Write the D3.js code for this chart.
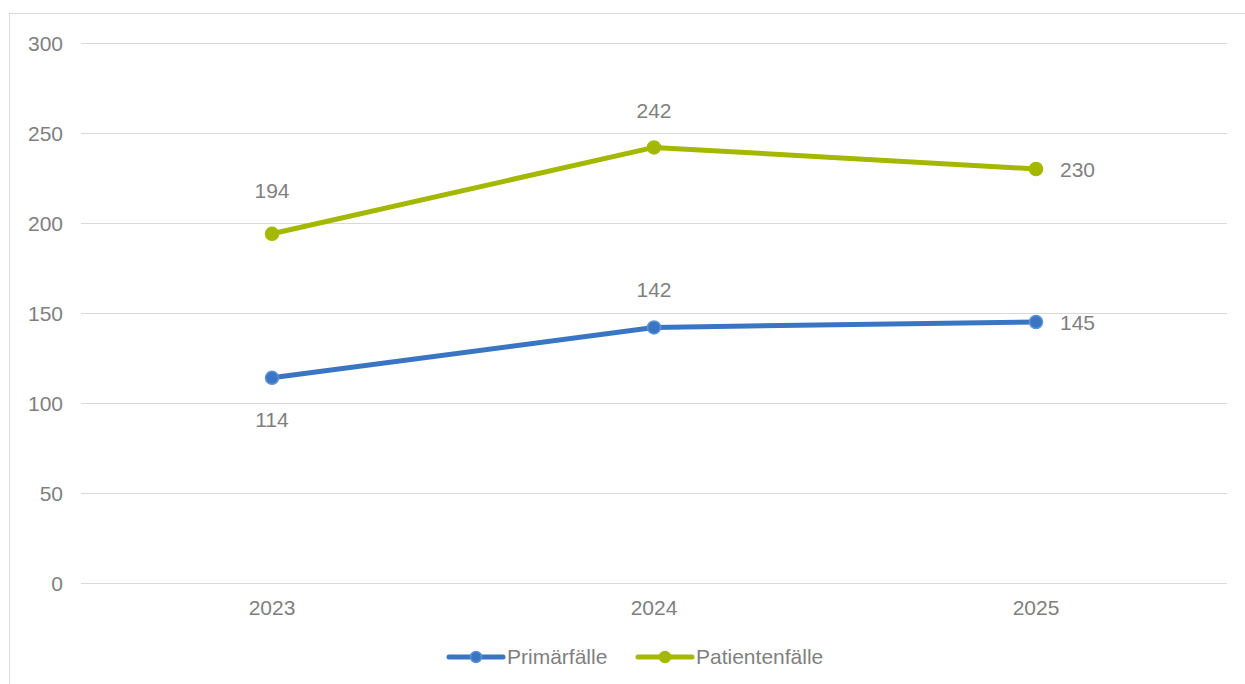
<!DOCTYPE html>
<html><head><meta charset="utf-8">
<script src="https://cdn.jsdelivr.net/npm/d3@7"></script>
<style>body{margin:0;background:#fff;}svg{display:block;font-family:"Liberation Sans",Arial,sans-serif;}</style>
</head><body>
<script>
const categories = ["2023","2024","2025"];
const primaer = [114,142,145];
const patienten = [194,242,230];
const yTicks = [0,50,100,150,200,250,300];
const seriesNames = ["Primärfälle","Patientenfälle"];

const W=1245,H=684;
const FS=21, TC="#7f7f7f";
const svg=d3.select("body").append("svg").attr("width",W).attr("height",H);
svg.append("rect").attr("x",9.5).attr("y",13.5).attr("width",1245).attr("height",700).attr("fill","none").attr("stroke","#d9d9d9");

const x=d3.scaleBand().domain(categories).range([81,1227]);
const y=d3.scaleLinear().domain([0,300]).range([583,43]);

const grid=svg.append("g");
grid.selectAll("line").data(yTicks).join("line")
 .attr("x1",81).attr("x2",1227).attr("y1",d=>Math.round(y(d))+0.5).attr("y2",d=>Math.round(y(d))+0.5)
 .attr("stroke","#d9d9d9").attr("stroke-width",1);

const yAxis=d3.axisLeft(y).tickValues(yTicks).tickSize(0).tickPadding(0);
const ya=svg.append("g").attr("transform","translate(63,0)").call(yAxis);
ya.select(".domain").remove();
ya.selectAll("text").attr("font-size",FS).attr("fill",TC).attr("font-family","Liberation Sans, Arial, sans-serif").attr("dy","0.35em");

const xAxis=d3.axisBottom(x).tickSize(0).tickPadding(0);
const xa=svg.append("g").attr("transform","translate(0,608)").call(xAxis);
xa.select(".domain").remove();
xa.selectAll("text").attr("font-size",FS).attr("fill",TC).attr("font-family","Liberation Sans, Arial, sans-serif").attr("dy","0.35em");

const cx=d=>x(d)+x.bandwidth()/2;
const series=[
 {name:seriesNames[0],vals:primaer,color:"#3a75c4",mstroke:"#5b93d6",pos:["below","above","right"],off:[42,-38,1]},
 {name:seriesNames[1],vals:patienten,color:"#a5b800",mstroke:"#a5b800",pos:["above","above","right"],off:[-43,-37,1]}
];
const line=d3.line().x((d,i)=>cx(categories[i])).y(d=>y(d));
series.forEach(s=>{
 svg.append("path").attr("d",line(s.vals)).attr("fill","none").attr("stroke",s.color).attr("stroke-width",5).attr("stroke-linejoin","round").attr("stroke-linecap","round");
 svg.append("g").selectAll("circle").data(s.vals).join("circle")
  .attr("cx",(d,i)=>cx(categories[i])).attr("cy",d=>y(d)).attr("r",6.5)
  .attr("fill",s.color).attr("stroke",s.mstroke).attr("stroke-width",1.5);
 svg.append("g").selectAll("text").data(s.vals).join("text")
  .attr("x",(d,i)=>s.pos[i]==="right"?cx(categories[i])+24:cx(categories[i]))
  .attr("y",(d,i)=>y(d)+s.off[i])
  .attr("text-anchor",(d,i)=>s.pos[i]==="right"?"start":"middle")
  .attr("dy","0.35em").attr("font-size",FS).attr("fill",TC).text(d=>d);
});

const lg=svg.append("g");
const lx=[449,638];
series.forEach((s,i)=>{
 lg.append("line").attr("x1",lx[i]).attr("x2",lx[i]+54).attr("y1",657).attr("y2",657).attr("stroke",s.color).attr("stroke-width",5).attr("stroke-linecap","round");
 lg.append("circle").attr("cx",lx[i]+27).attr("cy",657).attr("r",5.5).attr("fill",s.color).attr("stroke",s.mstroke).attr("stroke-width",1.5);
 lg.append("text").attr("x",lx[i]+58).attr("y",657).attr("dy","0.35em").attr("font-size",FS).attr("fill",TC).text(s.name);
});
</script>
</body></html>
